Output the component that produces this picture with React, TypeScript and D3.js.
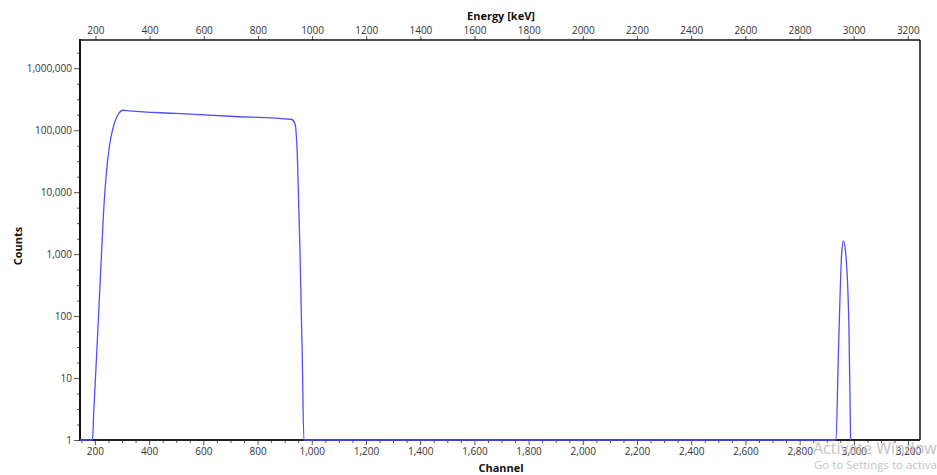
import React, { useEffect, useRef } from "react";
import * as d3 from "d3";

const channels = [145, 191, 196, 206, 218, 231, 241, 255, 268, 286, 304, 329, 500, 700, 926, 938, 947, 957, 965, 971, 2934, 2943, 2955, 2961, 2970, 2982, 2988];
const counts = [1, 1, 3, 22, 264, 4000, 17600, 61000, 113000, 181000, 210000, 204800, 186700, 168000, 149000, 128000, 37000, 900, 22, 1, 1, 25, 1030, 1640, 1030, 60, 1];

const channelTicks = [200, 400, 600, 800, 1000, 1200, 1400, 1600, 1800, 2000, 2200, 2400, 2600, 2800, 3000, 3200];
const energyTicks = [200, 400, 600, 800, 1000, 1200, 1400, 1600, 1800, 2000, 2200, 2400, 2600, 2800, 3000, 3200];
const countTicks = [1, 10, 100, 1000, 10000, 100000, 1000000];

const W = 937, H = 475;
const L = 80, R = 920, T = 40, B = 440;
const FONT = "'Open Sans', 'Noto Sans', sans-serif";

export default function App() {
  const ref = useRef<SVGSVGElement>(null);

  useEffect(() => {
    const svg = d3.select(ref.current);
    svg.selectAll("*").remove();

    const x = d3.scaleLinear().domain([145, 3244]).range([L, R]);
    const xE = d3.scaleLinear().domain([143, 3245]).range([L, R]);
    const y = d3.scaleLog().domain([1, 2.86e6]).range([B, T]);

    svg.append("rect").attr("x", 0).attr("y", 0).attr("width", W).attr("height", H).attr("fill", "#fff");

    const yMinor: number[] = [];
    for (let d = 0; d < 6.5; d += 0.25) {
      if (Math.abs(d - Math.round(d)) > 1e-6) yMinor.push(Math.pow(10, d));
    }
    const g = svg.append("g");

    const yMinorAxis = d3.axisLeft(y).tickValues(yMinor.filter(v => v < 2.86e6)).tickSize(3).tickFormat(() => "");
    g.append("g").attr("transform", `translate(${L},0)`).call(yMinorAxis as any);

    const yAxis = d3.axisLeft(y).tickValues(countTicks).tickSize(6).tickPadding(2).tickFormat(d3.format(",") as any);
    g.append("g").attr("transform", `translate(${L},0)`).call(yAxis as any);

    const xMinor = d3.range(150, 3244, 50).filter(v => v % 200 !== 0);
    const xMinorAxis = d3.axisBottom(x).tickValues(xMinor).tickSize(3).tickFormat(() => "");
    g.append("g").attr("transform", `translate(0,${B})`).call(xMinorAxis as any);

    const xAxis = d3.axisBottom(x).tickValues(channelTicks).tickSize(5).tickPadding(3).tickFormat(d3.format(",") as any);
    g.append("g").attr("transform", `translate(0,${B})`).call(xAxis as any);

    const xTop = d3.axisTop(xE).tickValues(energyTicks).tickSize(4).tickPadding(2).tickFormat(d3.format("d") as any);
    g.append("g").attr("transform", `translate(0,${T})`).call(xTop as any);

    g.selectAll(".domain").remove();
    g.selectAll(".tick line").attr("stroke", "#555").attr("stroke-width", 1);
    g.selectAll(".tick text").attr("fill", "#333").attr("font-size", 10).attr("font-family", FONT);

    // frame
    svg.append("line").attr("x1", L).attr("x2", R).attr("y1", T).attr("y2", T).attr("stroke", "#111").attr("stroke-width", 1.5);
    svg.append("line").attr("x1", R).attr("x2", R).attr("y1", T).attr("y2", B).attr("stroke", "#111").attr("stroke-width", 1.5);
    svg.append("line").attr("x1", L).attr("x2", L).attr("y1", T - 1).attr("y2", B + 1).attr("stroke", "#111").attr("stroke-width", 2);
    svg.append("line").attr("x1", L - 1).attr("x2", R).attr("y1", B).attr("y2", B).attr("stroke", "#222").attr("stroke-width", 2);

    // data line (drawn over the frame so the baseline at 1 stays visible)
    const pts = channels.map((c, i) => [c, counts[i]] as [number, number]);
    const line = d3.line<[number, number]>()
      .x(d => x(d[0]))
      .y(d => y(d[1]))
      .curve(d3.curveMonotoneX);
    svg.append("path").attr("d", line(pts) as string)
      .attr("fill", "none").attr("stroke", "#4f4fff").attr("stroke-width", 1.3);

    // titles
    svg.append("text").text("Energy [keV]").attr("x", 501).attr("y", 20).attr("text-anchor", "middle")
      .attr("font-size", 11).attr("font-weight", "bold").attr("font-family", FONT).attr("fill", "#111");
    svg.append("text").text("Channel").attr("x", 501).attr("y", 472).attr("text-anchor", "middle")
      .attr("font-size", 11).attr("font-weight", "bold").attr("font-family", FONT).attr("fill", "#111");
    svg.append("text").text("Counts").attr("transform", "translate(22,246) rotate(-90)").attr("text-anchor", "middle")
      .attr("font-size", 11).attr("font-weight", "bold").attr("font-family", FONT).attr("fill", "#111");

    // OS watermark present in the reference screenshot
    svg.append("text").text("Activate Windows").attr("x", 813).attr("y", 454)
      .attr("font-size", 16).attr("font-family", FONT).attr("fill", "#c4c4c4");
    svg.append("text").text("Go to Settings to activate Windows.").attr("x", 814).attr("y", 469)
      .attr("font-size", 11.5).attr("font-family", FONT).attr("fill", "#c4c4c4");
  }, []);

  return (
    <svg ref={ref} width={W} height={H} style={{ position: "absolute", left: 0, top: 0, display: "block" }} />
  );
}
